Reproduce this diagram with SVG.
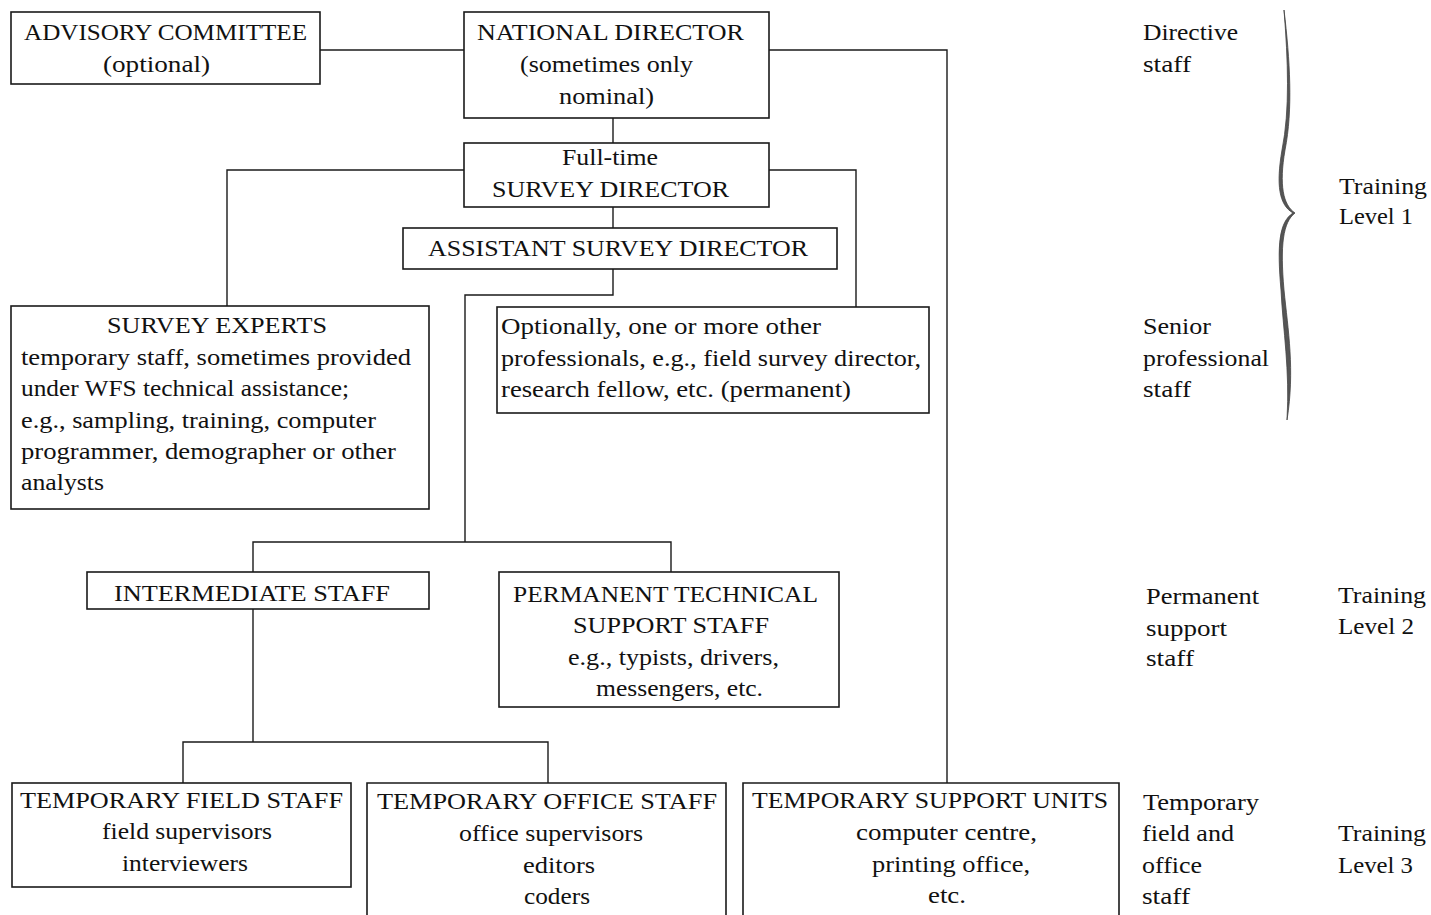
<svg xmlns="http://www.w3.org/2000/svg" width="1431" height="915" viewBox="0 0 1431 915">
<style>
.box{fill:#fff;stroke:#1a1a1a;stroke-width:1.6}
.ln{fill:none;stroke:#1a1a1a;stroke-width:1.4}
text{font-family:"Liberation Serif","Times New Roman",serif;font-size:24px;fill:#111}
</style>
<rect width="1431" height="915" fill="#fff"/>
<g id="connectors">
<path class="ln" d="M320 50 H464"/>
<path class="ln" d="M769 50 H947 V783"/>
<path class="ln" d="M613 118 V143"/>
<path class="ln" d="M464 170 H227 V306"/>
<path class="ln" d="M769 170 H856 V307"/>
<path class="ln" d="M613 207 V228"/>
<path class="ln" d="M613 269 V295 H465 V542"/>
<path class="ln" d="M253 572 V542 H671 V572"/>
<path class="ln" d="M253 609 V742"/>
<path class="ln" d="M183 783 V742 H548 V783"/>
</g>
<g id="advisory">
<rect class="box" x="11" y="12" width="309" height="72"/>
<text x="24" y="40" textLength="283" lengthAdjust="spacingAndGlyphs">ADVISORY COMMITTEE</text>
<text x="103" y="72" textLength="107" lengthAdjust="spacingAndGlyphs">(optional)</text>
</g>
<g id="national">
<rect class="box" x="464" y="12" width="305" height="106"/>
<text x="477" y="40" textLength="267" lengthAdjust="spacingAndGlyphs">NATIONAL DIRECTOR</text>
<text x="520" y="72" textLength="173" lengthAdjust="spacingAndGlyphs">(sometimes only</text>
<text x="559" y="104" textLength="95" lengthAdjust="spacingAndGlyphs">nominal)</text>
</g>
<g id="survey-director">
<rect class="box" x="464" y="143" width="305" height="64"/>
<text x="562" y="165" textLength="96" lengthAdjust="spacingAndGlyphs">Full-time</text>
<text x="492" y="197" textLength="237" lengthAdjust="spacingAndGlyphs">SURVEY DIRECTOR</text>
</g>
<g id="assistant">
<rect class="box" x="403" y="228" width="434" height="41"/>
<text x="428" y="256" textLength="380" lengthAdjust="spacingAndGlyphs">ASSISTANT SURVEY DIRECTOR</text>
</g>
<g id="survey-experts">
<rect class="box" x="11" y="306" width="418" height="203"/>
<text x="107" y="333" textLength="220" lengthAdjust="spacingAndGlyphs">SURVEY EXPERTS</text>
<text x="21" y="365" textLength="390" lengthAdjust="spacingAndGlyphs">temporary staff, sometimes provided</text>
<text x="21" y="396" textLength="328" lengthAdjust="spacingAndGlyphs">under WFS technical assistance;</text>
<text x="21" y="428" textLength="355" lengthAdjust="spacingAndGlyphs">e.g., sampling, training, computer</text>
<text x="21" y="459" textLength="375" lengthAdjust="spacingAndGlyphs">programmer, demographer or other</text>
<text x="21" y="490" textLength="83" lengthAdjust="spacingAndGlyphs">analysts</text>
</g>
<g id="other-professionals">
<rect class="box" x="497" y="307" width="432" height="106"/>
<text x="501" y="334" textLength="320" lengthAdjust="spacingAndGlyphs">Optionally, one or more other</text>
<text x="501" y="366" textLength="420" lengthAdjust="spacingAndGlyphs">professionals, e.g., field survey director,</text>
<text x="501" y="397" textLength="350" lengthAdjust="spacingAndGlyphs">research fellow, etc. (permanent)</text>
</g>
<g id="intermediate">
<rect class="box" x="87" y="572" width="342" height="37"/>
<text x="114" y="601" textLength="276" lengthAdjust="spacingAndGlyphs">INTERMEDIATE STAFF</text>
</g>
<g id="permanent-technical">
<rect class="box" x="499" y="572" width="340" height="135"/>
<text x="513" y="602" textLength="305" lengthAdjust="spacingAndGlyphs">PERMANENT TECHNICAL</text>
<text x="573" y="633" textLength="196" lengthAdjust="spacingAndGlyphs">SUPPORT STAFF</text>
<text x="568" y="665" textLength="211" lengthAdjust="spacingAndGlyphs">e.g., typists, drivers,</text>
<text x="596" y="696" textLength="167" lengthAdjust="spacingAndGlyphs">messengers, etc.</text>
</g>
<g id="temp-field">
<rect class="box" x="12" y="783" width="339" height="104"/>
<text x="20" y="808" textLength="323" lengthAdjust="spacingAndGlyphs">TEMPORARY FIELD STAFF</text>
<text x="102" y="839" textLength="170" lengthAdjust="spacingAndGlyphs">field supervisors</text>
<text x="122" y="871" textLength="126" lengthAdjust="spacingAndGlyphs">interviewers</text>
</g>
<g id="temp-office">
<path class="box" d="M367 916 V783 H726 V916"/>
<text x="377" y="809" textLength="340" lengthAdjust="spacingAndGlyphs">TEMPORARY OFFICE STAFF</text>
<text x="459" y="841" textLength="184" lengthAdjust="spacingAndGlyphs">office supervisors</text>
<text x="523" y="873" textLength="72" lengthAdjust="spacingAndGlyphs">editors</text>
<text x="524" y="904" textLength="66" lengthAdjust="spacingAndGlyphs">coders</text>
</g>
<g id="temp-support">
<path class="box" d="M743 916 V783 H1119 V916"/>
<text x="752" y="808" textLength="356" lengthAdjust="spacingAndGlyphs">TEMPORARY SUPPORT UNITS</text>
<text x="856" y="840" textLength="181" lengthAdjust="spacingAndGlyphs">computer centre,</text>
<text x="872" y="872" textLength="158" lengthAdjust="spacingAndGlyphs">printing office,</text>
<text x="928" y="903" textLength="38" lengthAdjust="spacingAndGlyphs">etc.</text>
</g>
<g id="levels">
<text x="1143" y="40" textLength="95" lengthAdjust="spacingAndGlyphs">Directive</text>
<text x="1143" y="72" textLength="48" lengthAdjust="spacingAndGlyphs">staff</text>
<text x="1143" y="334" textLength="68" lengthAdjust="spacingAndGlyphs">Senior</text>
<text x="1143" y="366" textLength="126" lengthAdjust="spacingAndGlyphs">professional</text>
<text x="1143" y="397" textLength="48" lengthAdjust="spacingAndGlyphs">staff</text>
<text x="1339" y="194" textLength="88" lengthAdjust="spacingAndGlyphs">Training</text>
<text x="1339" y="224" textLength="74" lengthAdjust="spacingAndGlyphs">Level 1</text>
<text x="1146" y="604" textLength="113" lengthAdjust="spacingAndGlyphs">Permanent</text>
<text x="1146" y="636" textLength="81" lengthAdjust="spacingAndGlyphs">support</text>
<text x="1146" y="666" textLength="48" lengthAdjust="spacingAndGlyphs">staff</text>
<text x="1338" y="603" textLength="88" lengthAdjust="spacingAndGlyphs">Training</text>
<text x="1338" y="634" textLength="76" lengthAdjust="spacingAndGlyphs">Level 2</text>
<text x="1143" y="810" textLength="116" lengthAdjust="spacingAndGlyphs">Temporary</text>
<text x="1142" y="841" textLength="92" lengthAdjust="spacingAndGlyphs">field and</text>
<text x="1142" y="873" textLength="60" lengthAdjust="spacingAndGlyphs">office</text>
<text x="1142" y="904" textLength="48" lengthAdjust="spacingAndGlyphs">staff</text>
<text x="1338" y="841" textLength="88" lengthAdjust="spacingAndGlyphs">Training</text>
<text x="1338" y="873" textLength="75" lengthAdjust="spacingAndGlyphs">Level 3</text>
</g>
<g id="brace">
<path d="M1284 10 C1290 60 1293 110 1285 150 C1279 185 1283 205 1295 213 C1283 222 1280 245 1284 290 C1288 330 1295 370 1287 420 C1290 370 1283 330 1281 290 C1277 245 1279 222 1293 213 C1279 205 1276 185 1282 150 C1290 110 1288 60 1284 10 Z" fill="#555" stroke="#444" stroke-width="0.8"/>
</g>
</svg>
